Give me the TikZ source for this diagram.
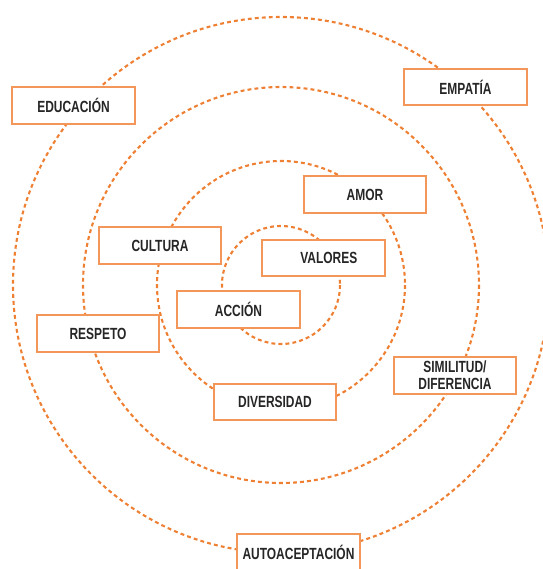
\documentclass[tikz,border=0pt]{standalone}
\usepackage{fontspec}
\setmainfont{Liberation Sans}[FakeStretch=0.74]
\usepackage{tikz}
\definecolor{ringorange}{RGB}{238,128,52}
\definecolor{boxorange}{RGB}{243,150,90}
\tikzset{
    ring/.style={draw=ringorange, line width=1.2pt, dash pattern=on 2.2pt off 1.8pt},
    label/.style={draw=boxorange, fill=white, line width=0.9pt, minimum width=69.7pt, minimum height=20.8pt, inner sep=0pt, align=center, font=\fontsize{9.2}{9.6}\selectfont\bfseries, text=black!85}
}

\begin{document}
\begin{tikzpicture}[x=0.02cm, y=-0.02cm]
    \useasboundingbox (0, 0) rectangle (542, 569);
    \coordinate (centre) at (281, 285);

    % concentric rings
    \draw[ring] (centre) circle (59);
    \draw[ring] (centre) circle (124);
    \draw[ring] (centre) circle (198);
    \draw[ring] (centre) circle (268);

    \node[label] (educacion) at (73.5, 105.5) {EDUCACIÓN};
    \node[label] (empatia) at (465.5, 87.0) {EMPATÍA};
    \node[label] (amor) at (365.0, 194.5) {AMOR};
    \node[label] (cultura) at (160.0, 245.5) {CULTURA};
    \node[label] (valores) at (323.5, 258.0) {\hspace{6pt}VALORES};
    \node[label] (accion) at (238.5, 309.5) {ACCIÓN};
    \node[label] (respeto) at (98.0, 333.5) {RESPETO};
    \node[label] (similitud) at (455.0, 375.5) {SIMILITUD/\\DIFERENCIA};
    \node[label] (diversidad) at (275.0, 402.0) {DIVERSIDAD};
    \node[label] (autoaceptacion) at (298.5, 552.5) {AUTOACEPTACIÓN};

\end{tikzpicture}
\end{document}
